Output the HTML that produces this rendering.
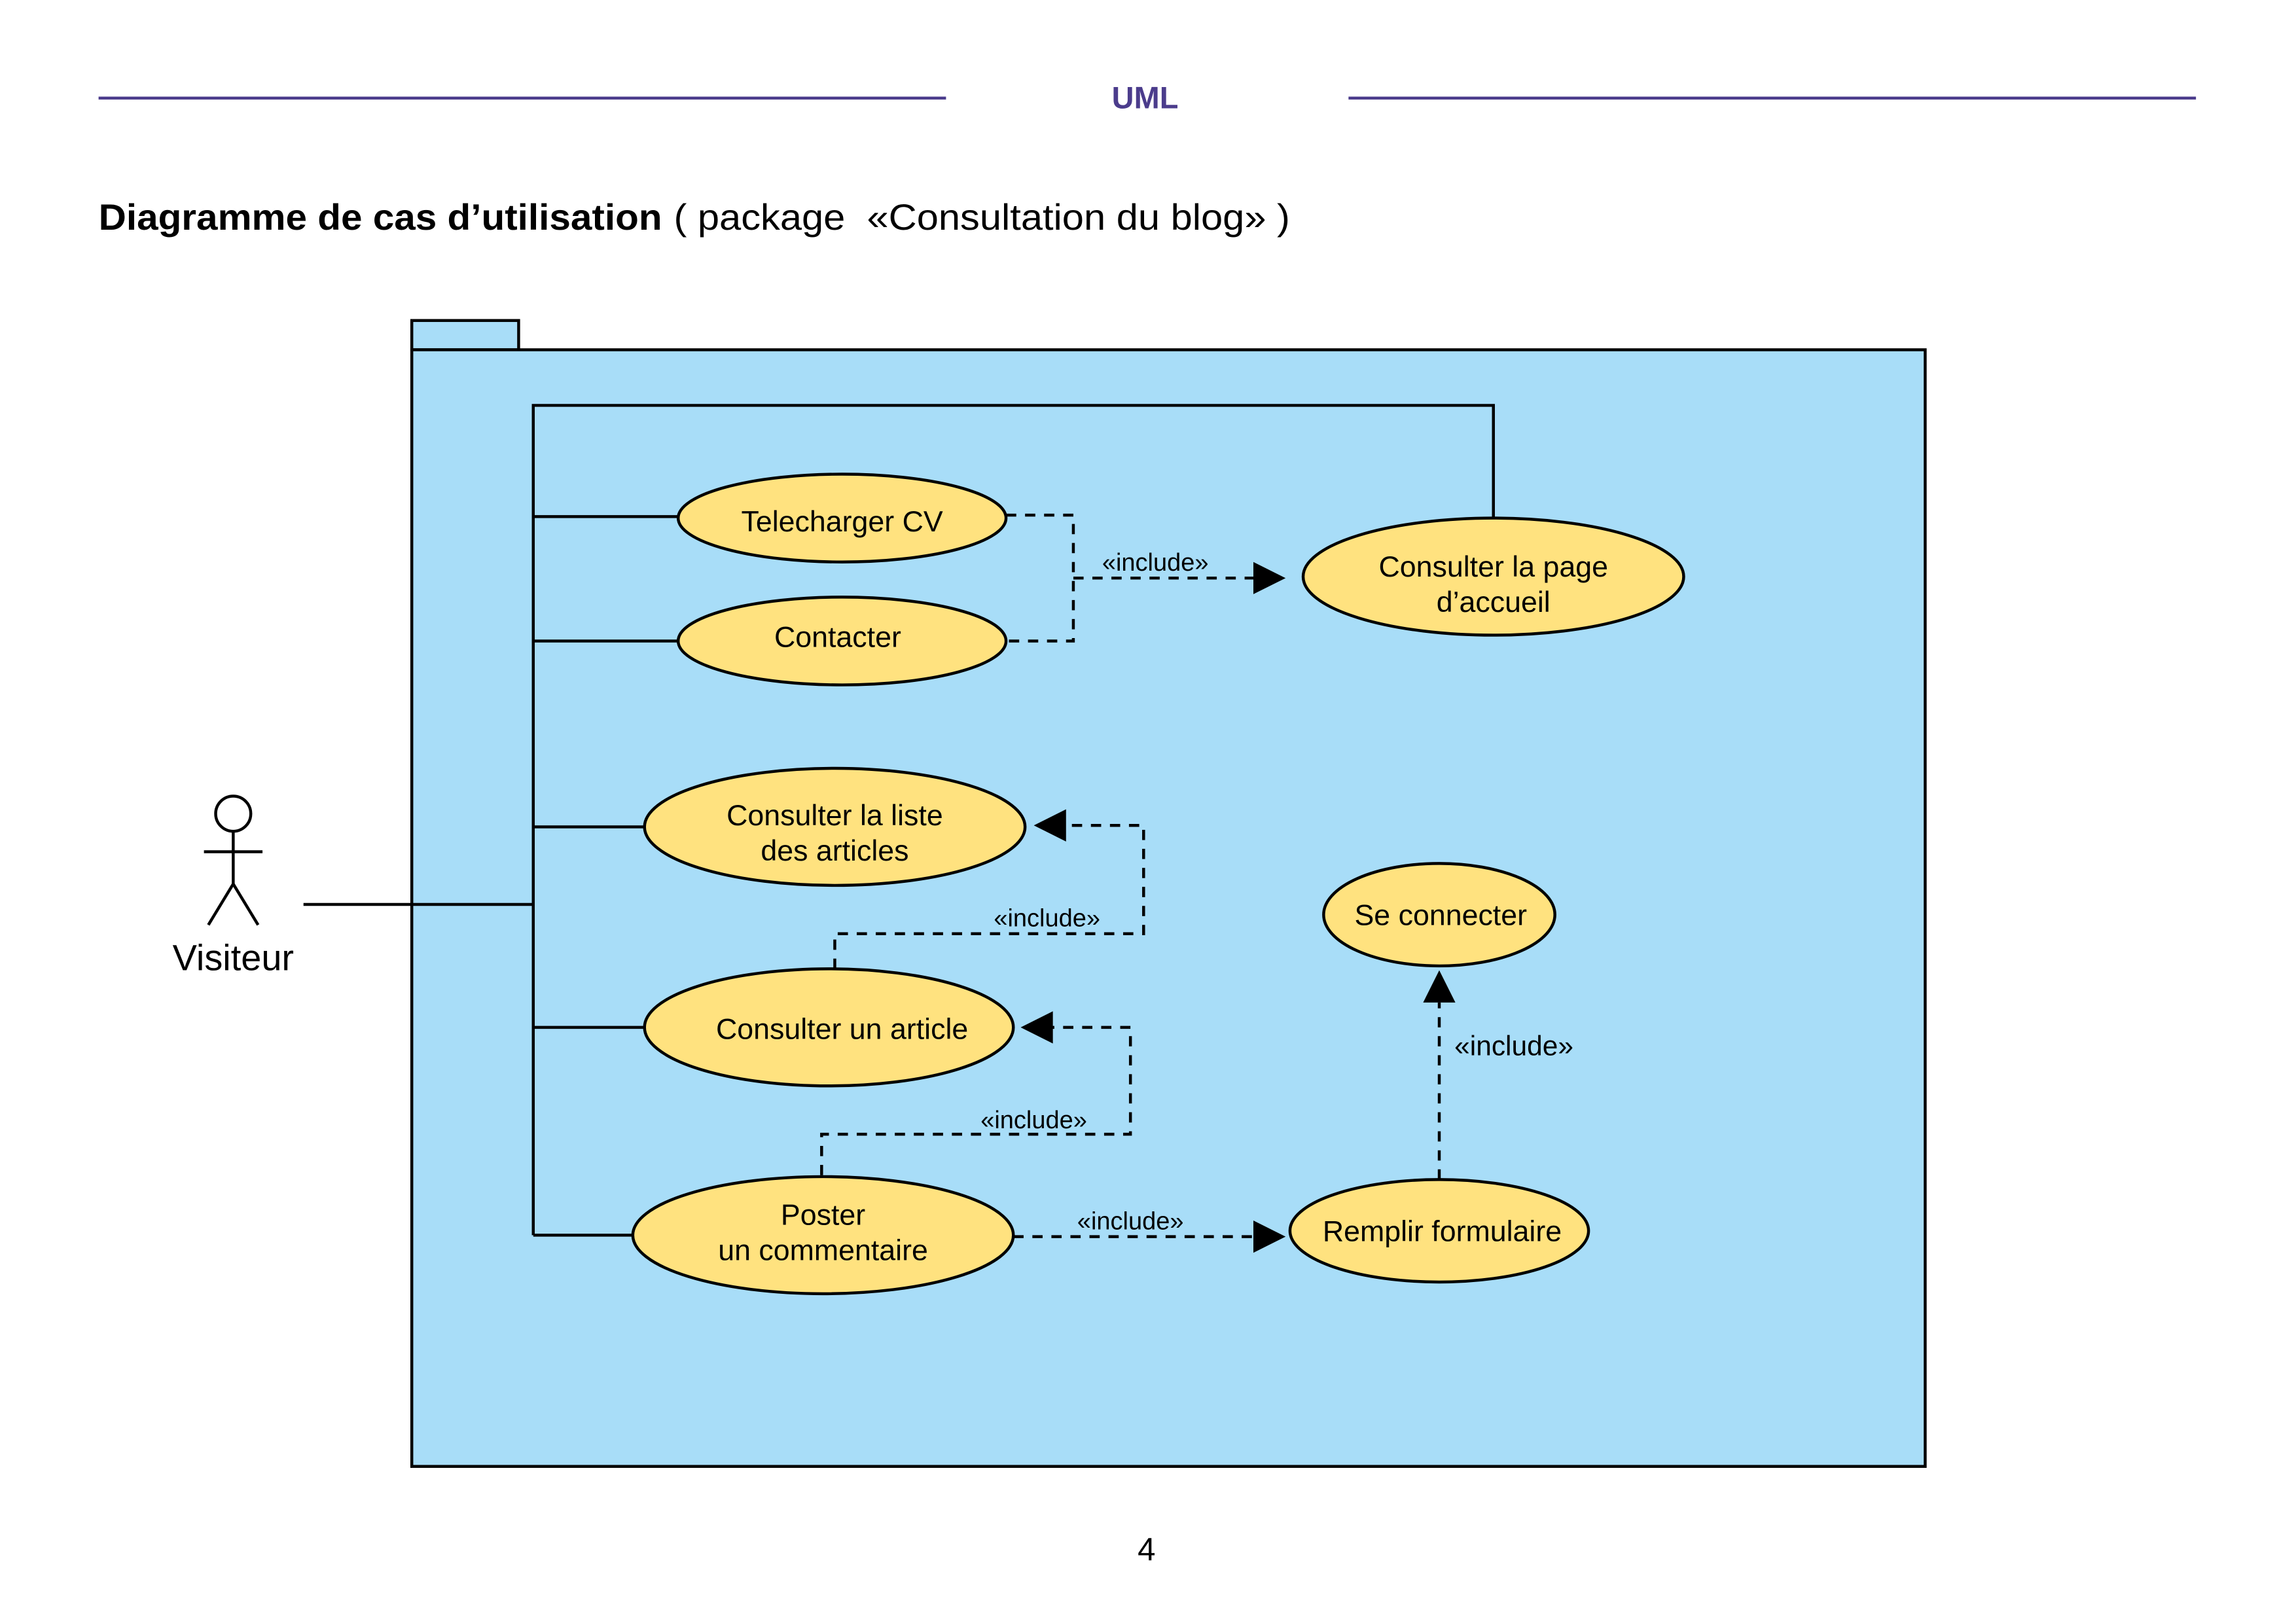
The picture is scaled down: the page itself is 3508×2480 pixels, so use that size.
<!DOCTYPE html>
<html><head><meta charset="utf-8"><style>html,body{margin:0;padding:0;background:#fff}svg{display:block}</style></head>
<body>
<svg width="3508" height="2480" viewBox="0 0 1568 1109" xmlns="http://www.w3.org/2000/svg" font-family="Liberation Sans, Arial, sans-serif">
<rect width="1568" height="1109" fill="#fff"/>
<g stroke="#4b3c8c" stroke-width="2"><line x1="67" y1="67" x2="646" y2="67"/><line x1="921" y1="67" x2="1500" y2="67"/></g>
<text x="782" y="74" text-anchor="middle" font-size="21" font-weight="bold" fill="#4b3c8c">UML</text>
<text x="67" y="157" font-size="25" font-weight="bold" textLength="385" lengthAdjust="spacingAndGlyphs">Diagramme de cas d’utilisation</text>
<text x="460" y="157" font-size="25" textLength="421" lengthAdjust="spacingAndGlyphs" xml:space="preserve">( package  «Consultation du blog» )</text>
<g stroke="#000" stroke-width="2" fill="#a8ddf8">
<rect x="281" y="219" width="73" height="20"/>
<rect x="281" y="239" width="1034" height="763"/>
</g>
<g stroke="#000" stroke-width="2" fill="none">
<circle cx="159" cy="556" r="12" fill="#fff"/>
<line x1="159" y1="568" x2="159" y2="604"/><line x1="139" y1="582" x2="179" y2="582"/>
<line x1="159" y1="604" x2="142" y2="632"/><line x1="159" y1="604" x2="176" y2="632"/>
<line x1="207" y1="618" x2="364" y2="618"/>
<polyline points="364,844 364,277 1020,277 1020,354"/>
<line x1="364" y1="353" x2="463" y2="353"/><line x1="364" y1="438" x2="463" y2="438"/>
<line x1="364" y1="565" x2="440" y2="565"/><line x1="364" y1="702" x2="440" y2="702"/>
<line x1="364" y1="844" x2="432" y2="844"/>
</g>
<text x="159" y="663" text-anchor="middle" font-size="25">Visiteur</text>
<g stroke="#000" stroke-width="2" fill="none" stroke-dasharray="7,6">
<polyline points="687,352 733,352 733,438 687,438"/><line x1="733" y1="395" x2="860" y2="395"/>
<polyline points="570,662 570,638 781,638 781,564 727,564"/>
<polyline points="561,803 561,775 772,775 772,702 718,702"/>
<line x1="692" y1="845" x2="860" y2="845"/>
<line x1="983" y1="806" x2="983" y2="685"/>
</g>
<g fill="#000">
<polygon points="856,384 878,395 856,406"/>
<polygon points="728,553 706,564 728,575"/>
<polygon points="719,691 697,702 719,713"/>
<polygon points="856,834 878,845 856,856"/>
<polygon points="972,685 983,663 994,685"/>
</g>
<g font-size="17" text-anchor="middle">
<text x="789" y="390">«include»</text><text x="715" y="633">«include»</text>
<text x="706" y="771">«include»</text><text x="772" y="840">«include»</text>
<text x="1034" y="721" font-size="19">«include»</text>
</g>
<g stroke="#000" stroke-width="2" fill="#ffe27f">
<ellipse cx="575" cy="354" rx="112" ry="30"/><ellipse cx="575" cy="438" rx="112" ry="30"/>
<ellipse cx="1020" cy="394" rx="130" ry="40"/><ellipse cx="570" cy="565" rx="130" ry="40"/>
<ellipse cx="566" cy="702" rx="126" ry="40"/><ellipse cx="562" cy="844" rx="130" ry="40"/>
<ellipse cx="983" cy="625" rx="79" ry="35"/><ellipse cx="983" cy="841" rx="102" ry="35"/>
</g>
<g font-size="20" text-anchor="middle">
<text x="575" y="363">Telecharger CV</text><text x="572" y="442">Contacter</text>
<text x="1020" y="394">Consulter la page</text><text x="1020" y="418">d’accueil</text>
<text x="570" y="564">Consulter la liste</text><text x="570" y="588">des articles</text>
<text x="575" y="710">Consulter un article</text>
<text x="562" y="837">Poster</text><text x="562" y="861">un commentaire</text>
<text x="984" y="632">Se connecter</text><text x="985" y="848">Remplir formulaire</text>
</g>
<text x="783" y="1066" text-anchor="middle" font-size="22">4</text>
</svg>
</body></html>
